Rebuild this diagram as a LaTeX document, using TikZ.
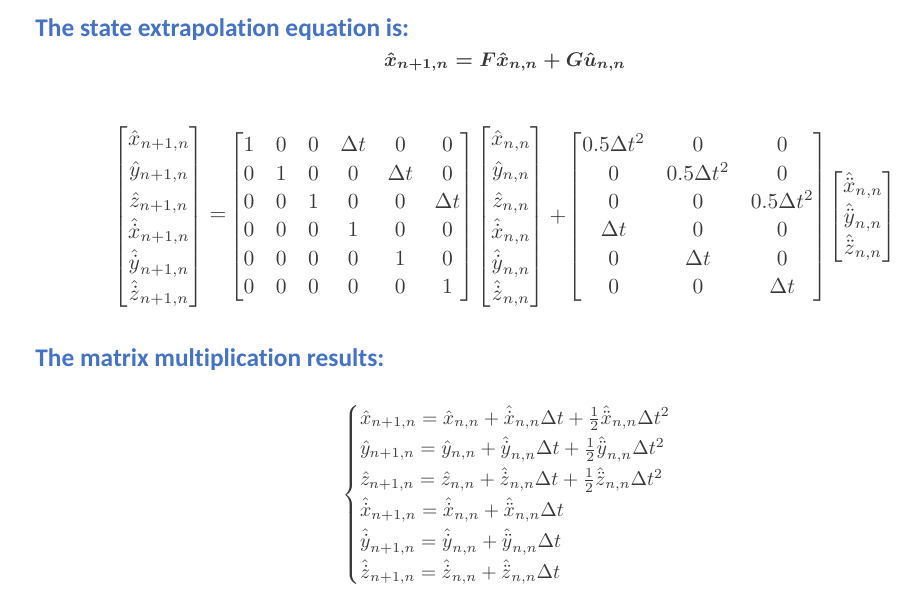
\documentclass[tikz,border=0pt]{standalone}
\usepackage{amsmath}
\usepackage{graphicx}
\usepackage[no-math]{fontspec}
\newfontfamily\headfont[Ligatures=NoCommon]{Carlito}
\definecolor{headblue}{RGB}{68,114,196}
\definecolor{mathgray}{RGB}{55,55,55}
\newcommand{\hd}[1]{\mathaccent"705E{\mathaccent"705F{#1}}}
\newcommand{\hdd}[1]{\mathaccent"705E{\mathaccent"707F{#1}}}
\begin{document}
\begin{tikzpicture}[x=0.465pt, y=-0.465pt,
		head/.style={anchor=base west, inner sep=0pt, text=headblue,
			font=\headfont\bfseries\fontsize{11.8}{14}\selectfont},
		mat/.style={inner sep=0pt, text=mathgray}
		]
	\useasboundingbox (0,0) rectangle (919,609);
	\node [head] (h1) at (35,37) {The state extrapolation equation is:};
	\node [mat] (steq) at (505,62) {\scalebox{0.92}{$\boldsymbol{\hat{x}_{n+1,n} = F\hat{x}_{n,n} + G\hat{u}_{n,n}}$}};
	\node [mat] (xnew) at (159,217) {\renewcommand{\arraystretch}{1.2}$\begin{bmatrix}
		\hat{x}_{n+1,n}\\ \hat{y}_{n+1,n}\\ \hat{z}_{n+1,n}\\
		\hd{x}_{n+1,n}\\ \hd{y}_{n+1,n}\\ \hd{z}_{n+1,n}
		\end{bmatrix}$};
	\node [mat] (eq) at (218,217) {$=$};
	\node [mat] (F) at (352,217) {\renewcommand{\arraystretch}{1.1}$\begin{bmatrix}
		1 & 0 & 0 & \Delta t & 0 & 0\\
		0 & 1 & 0 & 0 & \Delta t & 0\\
		0 & 0 & 1 & 0 & 0 & \Delta t\\
		0 & 0 & 0 & 1 & 0 & 0\\
		0 & 0 & 0 & 0 & 1 & 0\\
		0 & 0 & 0 & 0 & 0 & 1
		\end{bmatrix}$};
	\node [mat] (xold) at (511,217) {\renewcommand{\arraystretch}{1.2}$\begin{bmatrix}
		\hat{x}_{n,n}\\ \hat{y}_{n,n}\\ \hat{z}_{n,n}\\
		\hd{x}_{n,n}\\ \hd{y}_{n,n}\\ \hd{z}_{n,n}
		\end{bmatrix}$};
	\node [mat] (plus) at (558,217) {$+$};
	\node [mat] (G) at (698,217) {\renewcommand{\arraystretch}{1.1}$\begin{bmatrix}
		0.5\Delta t^2 & 0 & 0\\
		0 & 0.5\Delta t^2 & 0\\
		0 & 0 & 0.5\Delta t^2\\
		\Delta t & 0 & 0\\
		0 & \Delta t & 0\\
		0 & 0 & \Delta t
		\end{bmatrix}$};
	\node [mat] (u) at (863,217) {\renewcommand{\arraystretch}{1.2}$\begin{bmatrix}
		\hdd{x}_{n,n}\\ \hdd{y}_{n,n}\\ \hdd{z}_{n,n}
		\end{bmatrix}$};
	\node [head] (h2) at (35,367) {The matrix multiplication results:};
	\node [mat, anchor=west] (res) at (342,495) {\scalebox{0.92}{\renewcommand{\arraystretch}{1.3}$\left\lbrace\begin{array}{@{}l@{}}
		\hat{x}_{n+1,n} = \hat{x}_{n,n} + \hd{x}_{n,n}\Delta t + \frac{1}{2}\hdd{x}_{n,n}\Delta t^2\\
		\hat{y}_{n+1,n} = \hat{y}_{n,n} + \hd{y}_{n,n}\Delta t + \frac{1}{2}\hdd{y}_{n,n}\Delta t^2\\
		\hat{z}_{n+1,n} = \hat{z}_{n,n} + \hd{z}_{n,n}\Delta t + \frac{1}{2}\hdd{z}_{n,n}\Delta t^2\\
		\hd{x}_{n+1,n} = \hd{x}_{n,n} + \hdd{x}_{n,n}\Delta t\\
		\hd{y}_{n+1,n} = \hd{y}_{n,n} + \hdd{y}_{n,n}\Delta t\\
		\hd{z}_{n+1,n} = \hd{z}_{n,n} + \hdd{z}_{n,n}\Delta t
		\end{array}\right.$}};
\end{tikzpicture}
\end{document}
